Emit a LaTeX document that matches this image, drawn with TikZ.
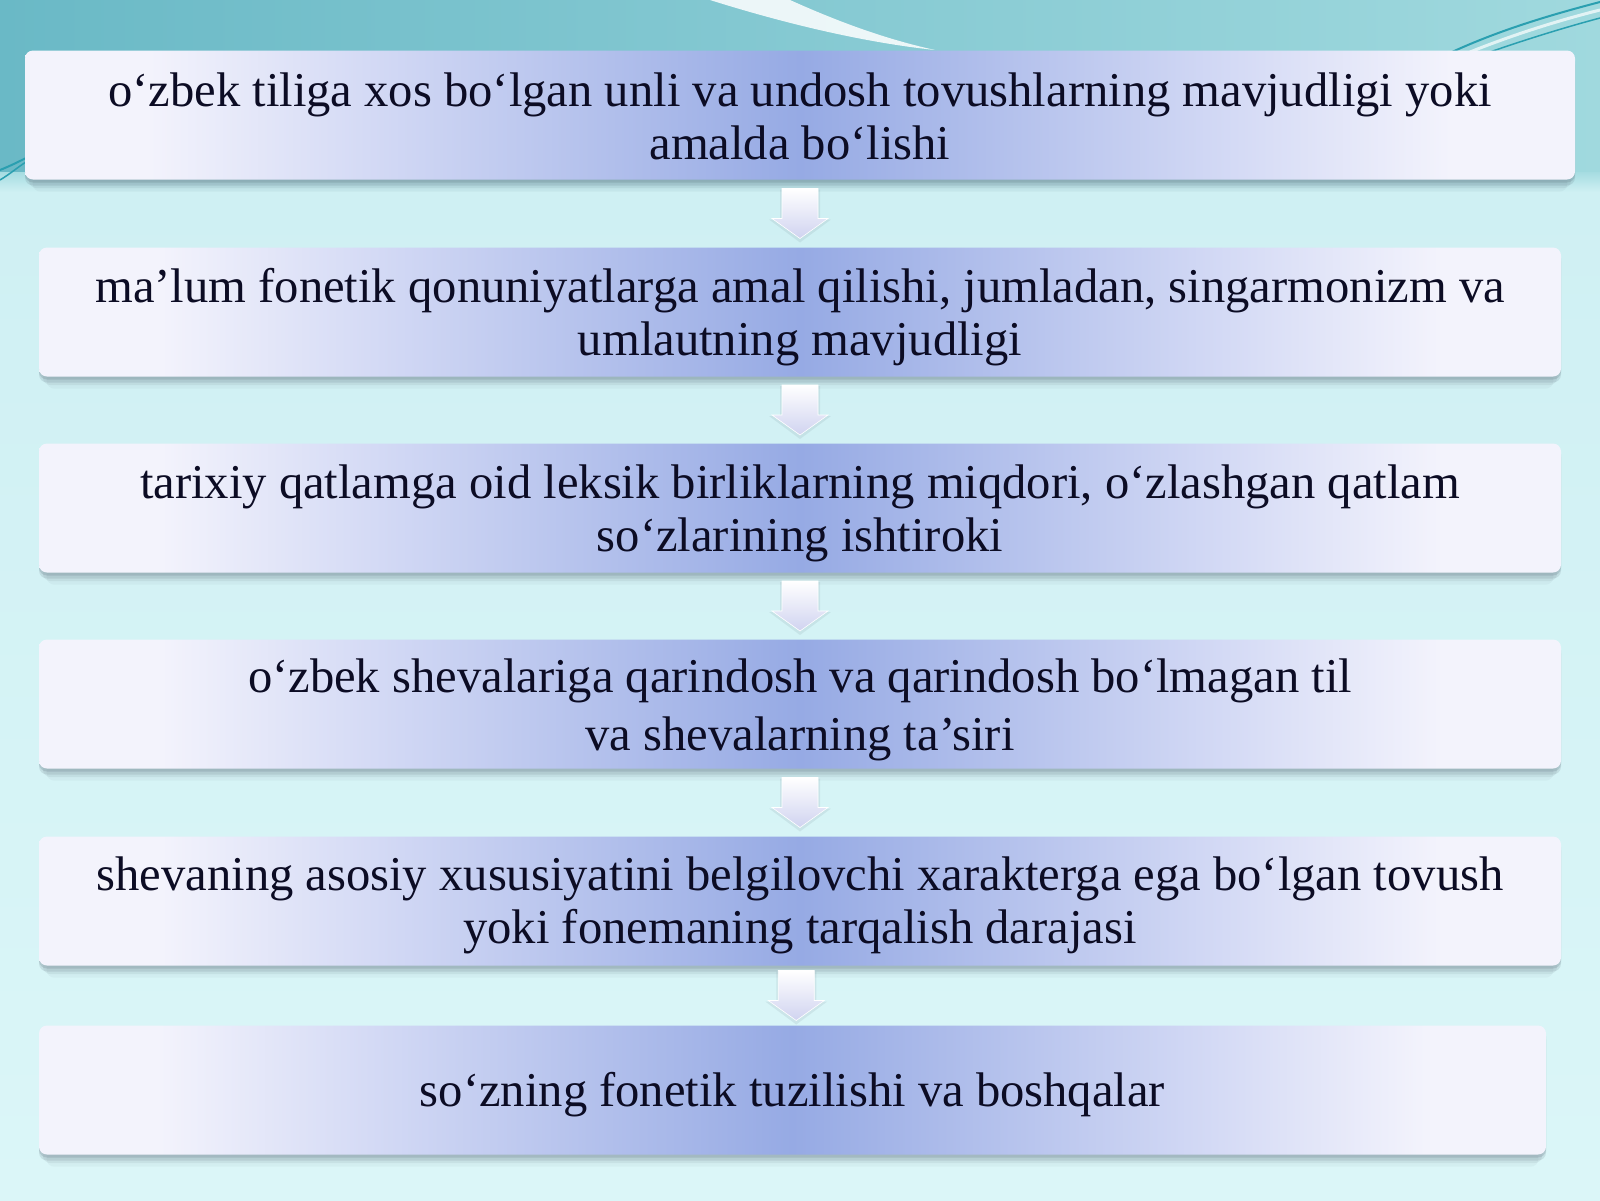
\documentclass[tikz,border=0pt]{standalone}
\usepackage{fontspec}
\setmainfont{Liberation Serif}
\usetikzlibrary{shadows,calc}
\definecolor{bgTL}{HTML}{6AB9C6}
\definecolor{bgTR}{HTML}{A0D9DE}
\definecolor{bgMid}{HTML}{A6DCE1}
\definecolor{bgLight}{HTML}{CFF0F3}
\definecolor{bgBottom}{HTML}{DBF6F8}
\definecolor{bxA}{HTML}{F3F3FC}
\definecolor{bxB}{HTML}{D4DAF5}
\definecolor{bxC}{HTML}{96AAE4}
\definecolor{arrA}{HTML}{FFFFFF}
\definecolor{arrB}{HTML}{D0D3F0}
\definecolor{txt}{HTML}{0C0C24}
\definecolor{decoTeal}{HTML}{2A9FB0}
\definecolor{shd}{HTML}{50606E}
\pgfdeclarehorizontalshading{boxshade}{100bp}{color(0bp)=(bxA); color(25bp)=(bxA); color(29bp)=(bxA); color(36bp)=(bxB); color(50bp)=(bxC); color(64bp)=(bxB); color(71bp)=(bxA); color(75bp)=(bxA); color(100bp)=(bxA)}
\tikzset{
  box/.style={shading=boxshade, rounded corners=8pt, inner sep=0pt,
    minimum height=129pt,
    drop shadow={shadow xshift=0pt, shadow yshift=-3pt, opacity=0.18, fill=shd},
    drop shadow={shadow xshift=0pt, shadow yshift=-6pt, opacity=0.14, fill=shd},
    drop shadow={shadow xshift=0pt, shadow yshift=-9pt, shadow scale=0.995, opacity=0.09, fill=shd},
    drop shadow={shadow xshift=0pt, shadow yshift=-13pt, shadow scale=0.99, opacity=0.05, fill=shd}},
  boxtext/.style={inner sep=0pt, text=txt, align=center,
    font=\fontsize{48.6}{53}\selectfont},
  arrowfill/.style={top color=arrA, bottom color=arrB, draw=white, line width=0.6pt},
  arrowshadow/.style={fill=shd, opacity=0.10}
}
\begin{document}
\begin{tikzpicture}[x=1pt,y=-1pt]
\useasboundingbox (0,0) rectangle (1600,1200);
% background
\shade[left color=bgTL, right color=bgTR] (0,0) rectangle (1600,172);
\shade[top color=bgMid, bottom color=bgLight] (0,172) rectangle (1600,192);
\shade[top color=bgLight, bottom color=bgBottom] (0,192) rectangle (1600,1200);
% decorations
\fill[white, opacity=0.85] (710,0) .. controls (780,22) and (860,42) .. (935,50)
  .. controls (880,38) and (830,18) .. (790,0) -- cycle;
\draw[decoTeal, line width=2pt] (1452,52) .. controls (1500,30) and (1550,15) .. (1600,2);
\draw[white, opacity=0.7, line width=3pt] (1470,52) .. controls (1515,34) and (1560,20) .. (1600,10);
\draw[decoTeal, line width=1.5pt] (1490,52) .. controls (1530,38) and (1570,26) .. (1600,18);
\draw[decoTeal, line width=2pt] (0,170) .. controls (10,166) and (18,162) .. (26,158);
\draw[decoTeal, line width=1.5pt] (0,180) .. controls (10,174) and (18,167) .. (26,162);
% boxes
\node[box, minimum width=1550pt] (b1) at (800,115) {};
\node[box, minimum width=1522pt] (b2) at (800,312) {};
\node[box, minimum width=1522pt] (b3) at (800,508) {};
\node[box, minimum width=1522pt] (b4) at (800,704) {};
\node[box, minimum width=1522pt] (b5) at (800,901) {};
\node[box, minimum width=1507pt] (b6) at (792.5,1090) {};
% texts
\node[boxtext] (t1) at ([yshift=-1pt]b1.center)
  {o‘zbek tiliga xos bo‘lgan unli va undosh tovushlarning mavjudligi yoki\\amalda bo‘lishi};
\node[boxtext] (t2) at ([yshift=-5pt]b2.center)
  {ma’lum fonetik qonuniyatlarga amal qilishi, jumladan, singarmonizm va\\umlautning mavjudligi};
\node[boxtext] (t3) at ([yshift=-5pt]b3.center)
  {tarixiy qatlamga oid leksik birliklarning miqdori, o‘zlashgan qatlam\\so‘zlarining ishtiroki};
\node[boxtext, font=\fontsize{48.6}{58}\selectfont] (t4) at ([yshift=-6pt]b4.center)
  {o‘zbek shevalariga qarindosh va qarindosh bo‘lmagan til\\va shevalarning ta’siri};
\node[boxtext] (t5) at ([yshift=-4pt]b5.center)
  {shevaning asosiy xususiyatini belgilovchi xarakterga ega bo‘lgan tovush\\yoki fonemaning tarqalish darajasi};
\node[boxtext] (t6) at ([yshift=-5pt]b6.center)
  {so‘zning fonetik tuzilishi va boshqalar};
% arrow mid points
\coordinate (m1) at ($(b1.south)!0.5!(b2.north)$);
\coordinate (m2) at ($(b2.south)!0.5!(b3.north)$);
\coordinate (m3) at ($(b3.south)!0.5!(b4.north)$);
\coordinate (m4) at ($(b4.south)!0.5!(b5.north)$);
\coordinate (m5) at ($(b5.south)!0.5!(b6.north)$);
% block arrows
\foreach \m in {m1,m2,m3,m4,m5}{
  \fill[arrowshadow] ([shift={(-20,-24)}]\m) -- ([shift={(20,-24)}]\m) -- ([shift={(20,6)}]\m)
    -- ([shift={(31,6)}]\m) -- ([shift={(0,29)}]\m) -- ([shift={(-31,6)}]\m)
    -- ([shift={(-20,6)}]\m) -- cycle;
  \shade[arrowfill] ([shift={(-18,-25)}]\m) -- ([shift={(18,-25)}]\m) -- ([shift={(18,5)}]\m)
    -- ([shift={(28,5)}]\m) -- ([shift={(0,25)}]\m) -- ([shift={(-28,5)}]\m)
    -- ([shift={(-18,5)}]\m) -- cycle;
}
\end{tikzpicture}
\end{document}
